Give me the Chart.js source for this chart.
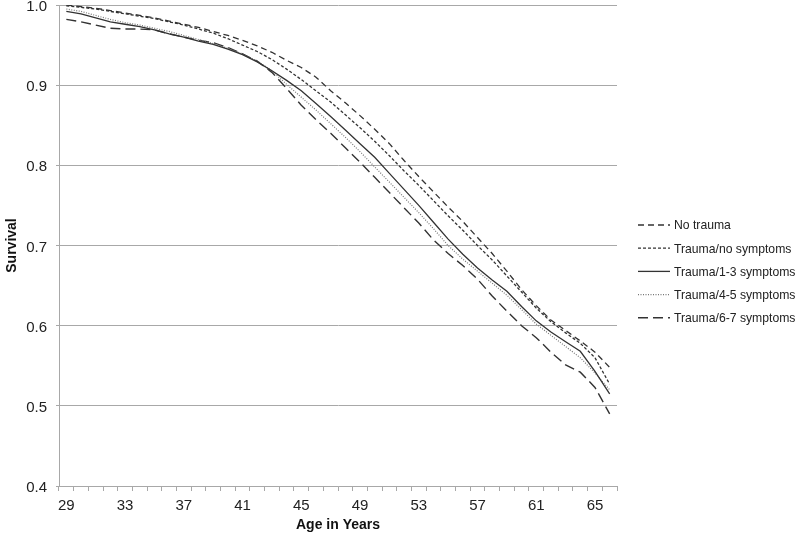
<!DOCTYPE html>
<html>
<head>
<meta charset="utf-8">
<script src="https://cdn.jsdelivr.net/npm/chart.js@4.4.1/dist/chart.umd.min.js"></script>
<style>
  html, body { margin: 0; padding: 0; background: #fff; }
  #wrap { width: 800px; height: 538px; }
</style>
</head>
<body>
<div id="wrap"><canvas id="survivalChart" width="800" height="538"></canvas></div>
<script>
// Ages on the x axis (one category per year)
const ages = [29, 30, 31, 32, 33, 34, 35, 36, 37, 38, 39, 40, 41, 42, 43, 44, 45, 46, 47,
              48, 49, 50, 51, 52, 53, 54, 55, 56, 57, 58, 59, 60, 61, 62, 63, 64, 65, 66];
const shownAges = [29, 33, 37, 41, 45, 49, 53, 57, 61, 65];
const yTicks = [0.4, 0.5, 0.6, 0.7, 0.8, 0.9, 1.0];

// Survival values
const noTrauma = [1.000, 0.998, 0.996, 0.993, 0.990, 0.987, 0.984, 0.980, 0.976, 0.972, 0.967, 0.962, 0.956,
                  0.949, 0.941, 0.931, 0.922, 0.910, 0.893, 0.878, 0.862, 0.845, 0.827, 0.806, 0.786, 0.767,
                  0.748, 0.730, 0.710, 0.690, 0.668, 0.645, 0.625, 0.607, 0.594, 0.581, 0.567, 0.548];
const traumaNoSymptoms = [0.999, 0.997, 0.995, 0.992, 0.989, 0.986, 0.983, 0.979, 0.975, 0.970, 0.965, 0.958, 0.950,
                          0.942, 0.932, 0.920, 0.907, 0.893, 0.879, 0.863, 0.847, 0.830, 0.812, 0.793, 0.775, 0.756,
                          0.737, 0.719, 0.700, 0.682, 0.662, 0.642, 0.622, 0.605, 0.591, 0.578, 0.560, 0.527];
const trauma13 = [0.992, 0.989, 0.984, 0.979, 0.976, 0.973, 0.969, 0.964, 0.960, 0.955, 0.951, 0.945, 0.938,
                  0.929, 0.918, 0.906, 0.893, 0.877, 0.861, 0.844, 0.827, 0.810, 0.790, 0.770, 0.750, 0.729,
                  0.708, 0.689, 0.672, 0.657, 0.643, 0.624, 0.606, 0.592, 0.580, 0.568, 0.543, 0.515];
const trauma45 = [0.995, 0.992, 0.987, 0.982, 0.978, 0.975, 0.971, 0.967, 0.962, 0.957, 0.952, 0.946, 0.939,
                  0.930, 0.918, 0.901, 0.885, 0.869, 0.852, 0.835, 0.817, 0.798, 0.779, 0.760, 0.741, 0.721,
                  0.700, 0.683, 0.668, 0.653, 0.638, 0.620, 0.602, 0.588, 0.574, 0.560, 0.541, 0.520];
const trauma67 = [0.982, 0.979, 0.975, 0.971, 0.970, 0.970, 0.969, 0.964, 0.960, 0.956, 0.953, 0.947, 0.939,
                  0.930, 0.916, 0.896, 0.875, 0.857, 0.840, 0.822, 0.804, 0.785, 0.766, 0.747, 0.728, 0.707,
                  0.690, 0.675, 0.658, 0.637, 0.618, 0.600, 0.585, 0.567, 0.551, 0.542, 0.523, 0.490];

const seriesNames = ['No trauma', 'Trauma/no symptoms', 'Trauma/1-3 symptoms', 'Trauma/4-5 symptoms', 'Trauma/6-7 symptoms'];

const FONT = "'Liberation Sans', Arial, sans-serif";
const AXIS_GREY = '#a8a8a8';

// Line styles for each series
const styles = [
    { color: '#333', width: 1.3, dash: [6, 4] },
    { color: '#333', width: 1.3, dash: [3, 2] },
    { color: '#333', width: 1.3, dash: [] },
    { color: '#777', width: 1.2, dash: [1, 1.5] },
    { color: '#333', width: 1.4, dash: [10, 5] }
];
const seriesData = [noTrauma, traumaNoSymptoms, trauma13, trauma45, trauma67];

// Simple legend on the right, drawn on the canvas
const sideLegend = {
    id: 'sideLegend',
    afterDraw(chart) {
        const ctx = chart.ctx;
        const x0 = 638, x1 = 670, top = 225, step = 23.2;
        ctx.save();
        ctx.font = '12.2px ' + FONT;
        ctx.textBaseline = 'middle';
        ctx.fillStyle = '#222';
        seriesNames.forEach((name, i) => {
            const y = top + i * step;
            const s = styles[i];
            ctx.beginPath();
            ctx.setLineDash(s.dash);
            ctx.lineWidth = s.width;
            ctx.strokeStyle = s.color;
            ctx.moveTo(x0, y);
            ctx.lineTo(x1, y);
            ctx.stroke();
            ctx.setLineDash([]);
            ctx.fillText(name, x1 + 4, y + 1);
        });
        ctx.restore();
    }
};

const ctx = document.getElementById('survivalChart').getContext('2d');
const chart = new Chart(ctx, {
    type: 'line',
    data: {
        labels: ages,
        datasets: seriesData.map((values, i) => ({
            label: seriesNames[i],
            data: values,
            borderColor: styles[i].color,
            borderWidth: styles[i].width,
            borderDash: styles[i].dash,
            pointRadius: 0,
            tension: 0,
            fill: false
        }))
    },
    options: {
        responsive: false,
        animation: false,
        layout: {
            padding: { top: 5, right: 183, left: 0, bottom: 0 }
        },
        plugins: {
            legend: { display: false },
            tooltip: { enabled: false }
        },
        scales: {
            x: {
                type: 'category',
                offset: true,
                afterFit: (scale) => { scale.height = 52; },
                grid: {
                    offset: true,
                    drawOnChartArea: false,
                    drawTicks: true,
                    tickLength: 5,
                    color: AXIS_GREY
                },
                border: { display: true, color: AXIS_GREY },
                ticks: {
                    autoSkip: false,
                    maxRotation: 0,
                    padding: 6,
                    color: '#222',
                    font: { family: FONT, size: 15 },
                    callback: function (value) {
                        const age = this.getLabelForValue(value);
                        return shownAges.includes(Number(age)) ? String(age) : '';
                    }
                },
                title: {
                    display: true,
                    text: 'Age in Years',
                    color: '#111',
                    padding: { top: 0, bottom: 4 },
                    font: { family: FONT, size: 14, weight: 'bold' }
                }
            },
            y: {
                min: 0.4,
                max: 1.0,
                afterFit: (scale) => {
                    scale.width = 59;
                    // let the plot start right under the top padding
                    scale.paddingTop = 0;
                    scale.paddingBottom = 0;
                },
                afterBuildTicks: (scale) => {
                    scale.ticks = yTicks.map(v => ({ value: v }));
                },
                grid: {
                    color: AXIS_GREY,
                    lineWidth: 1,
                    tickLength: 3
                },
                border: { display: true, color: AXIS_GREY },
                ticks: {
                    padding: 9,
                    labelOffset: 2,
                    color: '#222',
                    font: { family: FONT, size: 15 },
                    callback: (value) => Number(value).toFixed(1)
                },
                title: {
                    display: true,
                    text: 'Survival',
                    color: '#111',
                    padding: { top: 4, bottom: 0 },
                    font: { family: FONT, size: 14, weight: 'bold' }
                }
            }
        }
    },
    plugins: [sideLegend]
});
</script>
</body>
</html>
